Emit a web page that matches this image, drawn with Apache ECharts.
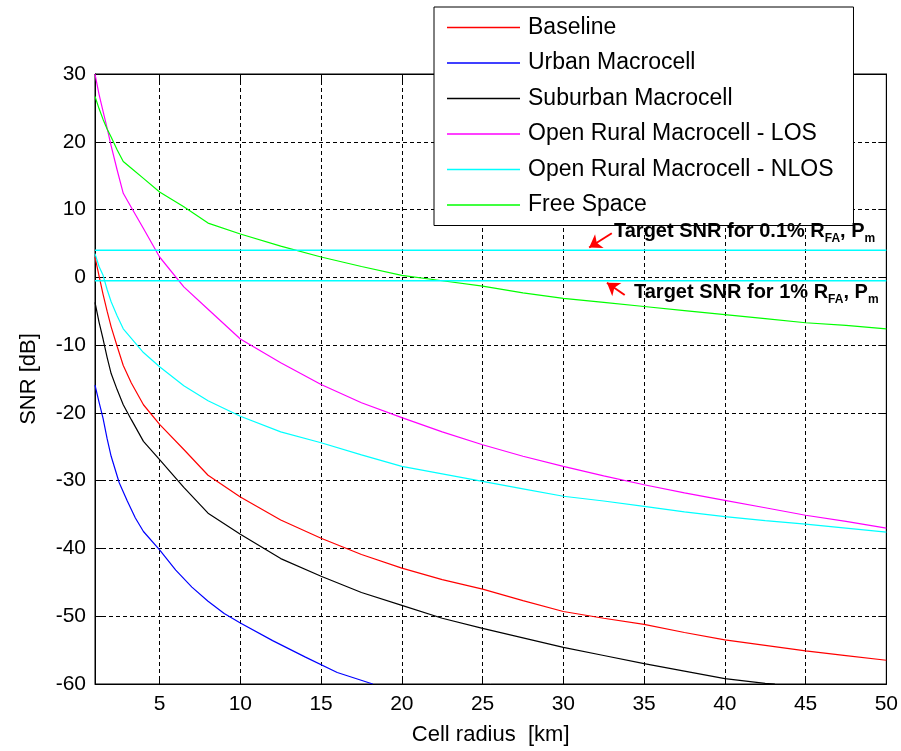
<!DOCTYPE html>
<html><head><meta charset="utf-8">
<script src="https://cdn.jsdelivr.net/npm/echarts@6/dist/echarts.min.js"></script>
<style>html,body{margin:0;padding:0;background:#fff;}#chart{width:901px;height:751px;}</style>
</head><body><div id="chart"></div>
<script>
// ---- data ----
const radius = [1,1.25,1.5,1.75,2,2.375,2.75,3.25,4,5,6.5,8,10,12.5,15,17.5,20,22.5,25,27.5,30,32.5,35,37.5,40,42.5,45,47.5,50];
const baseline      = [3.0,0.2,-2.5,-5.0,-7.3,-10.2,-13.0,-15.6,-18.8,-21.7,-25.4,-29.2,-32.4,-35.8,-38.5,-40.9,-42.9,-44.6,-46.0,-47.7,-49.3,-50.3,-51.2,-52.4,-53.5,-54.3,-55.1,-55.8,-56.5];
const openRuralLOS  = [30.0,27.0,24.5,22.0,19.4,15.8,12.4,10.3,7.2,3.0,-1.4,-4.7,-9.1,-12.6,-15.8,-18.5,-20.7,-22.8,-24.7,-26.4,-27.9,-29.3,-30.6,-31.8,-32.9,-34.0,-35.1,-36.0,-37.0];
const openRuralNLOS = [3.5,1.6,0.3,-1.8,-3.6,-5.7,-7.6,-9.0,-11.1,-13.2,-16.0,-18.2,-20.5,-22.8,-24.4,-26.2,-27.9,-29.0,-30.1,-31.2,-32.3,-33.0,-33.8,-34.6,-35.3,-35.9,-36.4,-37.0,-37.6];
const freeSpace     = [26.7,24.9,23.3,21.9,20.7,18.8,17.1,16.1,14.6,12.6,10.4,8.0,6.4,4.6,3.0,1.6,0.3,-0.5,-1.3,-2.3,-3.1,-3.7,-4.3,-4.9,-5.5,-6.1,-6.7,-7.1,-7.6];
const suburbanRadius = [1,1.25,1.5,1.75,2,2.375,2.75,3.25,4,5,6.5,8,10,12.5,15,17.5,20,22.5,25,27.5,30,32.5,35,37.5,40,42.5,43.1];
const suburban       = [-3.7,-6.6,-9.1,-11.8,-14.2,-16.6,-18.8,-21.0,-24.2,-26.9,-31.0,-34.8,-37.9,-41.5,-44.1,-46.5,-48.4,-50.3,-51.8,-53.2,-54.6,-55.8,-57.0,-58.1,-59.2,-59.9,-60.0];
const urbanRadius = [1,1.25,1.5,1.75,2,2.5,3,3.5,4,5,6,7,8,9,10,12,14,16,18.2];
const urban       = [-15.9,-18.4,-20.8,-23.8,-26.4,-30.3,-33.0,-35.5,-37.5,-40.2,-43.2,-45.7,-47.8,-49.6,-51.0,-53.6,-56.0,-58.3,-60.0];
const targetSNR = [4.0, -0.5];            // 0.1% and 1% targets
const targetNames = ['0.1%', '1%'];
const xTicks = [5,10,15,20,25,30,35,40,45,50];
const xRange = [1, 50];
const yRange = [-60, 30];
const yStep = 10;
const seriesNames = ['Baseline','Urban Macrocell','Suburban Macrocell','Open Rural Macrocell - LOS','Open Rural Macrocell - NLOS','Free Space'];
// annotation arrows (tail -> tip) in data units
const arrowTail = [[33.0, 6.5], [33.8, -2.6]];
const arrowTip  = [[31.6, 4.4], [32.7, -0.8]];

const colors = ['#ff0000','#0000ff','#000000','#ff00ff','#00ffff','#00ff00'];
const FONT = 'Liberation Sans, Arial, Helvetica, sans-serif';

function pairs(xs, ys){ return xs.map((x,i)=>[x, ys[i]]); }
const curves = [pairs(radius,baseline), pairs(urbanRadius,urban), pairs(suburbanRadius,suburban),
                pairs(radius,openRuralLOS), pairs(radius,openRuralNLOS), pairs(radius,freeSpace)];

const series = curves.map((d,i)=>({
  name: seriesNames[i], type:'line', data:d, symbol:'none', showSymbol:false, smooth:false,
  xAxisIndex:0, yAxisIndex:0,
  lineStyle:{color:colors[i], width:1.2}, itemStyle:{color:colors[i]},
  clip:true, z:3
}));
targetSNR.forEach((v,i)=>{
  series.push({
    name:'target '+targetNames[i], type:'line', symbol:'none',
    data:[[xRange[0],v],[xRange[1],v]],
    lineStyle:{color:'#00ffff', width:1.5}, z:3,
    markLine:{
      silent:true, symbol:['none','arrow'], symbolSize:12,
      lineStyle:{color:'#ff0000', width:2, type:'solid'}, itemStyle:{color:'#ff0000'}, label:{show:false},
      data:[[{coord:arrowTail[i]},{coord:arrowTip[i]}]]
    }
  });
});

const grid = {left:95, right:14, top:74, bottom:64};
const dash = {color:'#000', type:[4,3], width:1};
const chart = echarts.init(document.getElementById('chart'), null, {renderer:'canvas'});
chart.setOption({
  animation:false,
  backgroundColor:'#fff',
  grid: Object.assign({show:true, borderColor:'#000', borderWidth:1, backgroundColor:'transparent'}, grid),
  legend:{
    data:seriesNames.map((n,i)=>({name:n, icon:'rect', itemStyle:{color:colors[i]}})),
    orient:'vertical', left:434, top:7,
    backgroundColor:'#fff', borderColor:'#000', borderWidth:1,
    padding:[9,20,9,13], itemWidth:73, itemHeight:1.5, itemGap:12.5,
    textStyle:{fontFamily:FONT, fontSize:23, color:'#000', padding:[0,0,0,3], lineHeight:22},
    z:10
  },
  xAxis:[{
    type:'value', min:xRange[0], max:xRange[1], position:'bottom',
    name:'Cell radius  [km]', nameLocation:'middle', nameGap:40,
    nameTextStyle:{fontFamily:FONT, fontSize:22, color:'#000'},
    axisLine:{show:true, onZero:false, lineStyle:{color:'#000', width:1}},
    axisTick:{show:true, inside:true, length:8, customValues:xTicks, lineStyle:{color:'#000'}},
    axisLabel:{customValues:xTicks, fontFamily:FONT, fontSize:21, color:'#000', margin:10},
    splitLine:{show:true, lineStyle:dash}
  },{
    type:'value', min:xRange[0], max:xRange[1], position:'top',
    axisLine:{show:true, onZero:false, lineStyle:{color:'#000', width:1}},
    axisTick:{show:true, inside:true, length:8, customValues:xTicks, lineStyle:{color:'#000'}},
    axisLabel:{show:false}, splitLine:{show:false}
  }],
  yAxis:[{
    type:'value', min:yRange[0], max:yRange[1], interval:yStep, position:'left',
    name:'SNR [dB]', nameLocation:'middle', nameGap:55,
    nameTextStyle:{fontFamily:FONT, fontSize:22, color:'#000'},
    axisLine:{show:true, onZero:false, lineStyle:{color:'#000', width:1}},
    axisTick:{show:true, inside:true, length:8, lineStyle:{color:'#000'}},
    axisLabel:{fontFamily:FONT, fontSize:21, color:'#000', margin:9},
    splitLine:{show:true, lineStyle:dash}
  },{
    type:'value', min:yRange[0], max:yRange[1], interval:yStep, position:'right',
    axisLine:{show:true, onZero:false, lineStyle:{color:'#000', width:1}},
    axisTick:{show:true, inside:true, length:8, lineStyle:{color:'#000'}},
    axisLabel:{show:false}, splitLine:{show:false}
  }],
  series: series,
  graphic:[
    {type:'text', left:614, top:221, z:20, style:{
      rich:{a:{fontFamily:FONT, fontSize:20, fontWeight:'bold', lineHeight:28, fill:'#000'},
            s:{fontFamily:FONT, fontSize:12, fontWeight:'bold', lineHeight:12, verticalAlign:'bottom', fill:'#000'}},
      text:'{a|Target SNR for 0.1% R}{s|FA}{a|, P}{s|m}'}},
    {type:'text', left:634, top:282, z:20, style:{
      rich:{a:{fontFamily:FONT, fontSize:20, fontWeight:'bold', lineHeight:28, fill:'#000'},
            s:{fontFamily:FONT, fontSize:12, fontWeight:'bold', lineHeight:12, verticalAlign:'bottom', fill:'#000'}},
      text:'{a|Target SNR for 1% R}{s|FA}{a|, P}{s|m}'}}
  ]
});
</script></body></html>
